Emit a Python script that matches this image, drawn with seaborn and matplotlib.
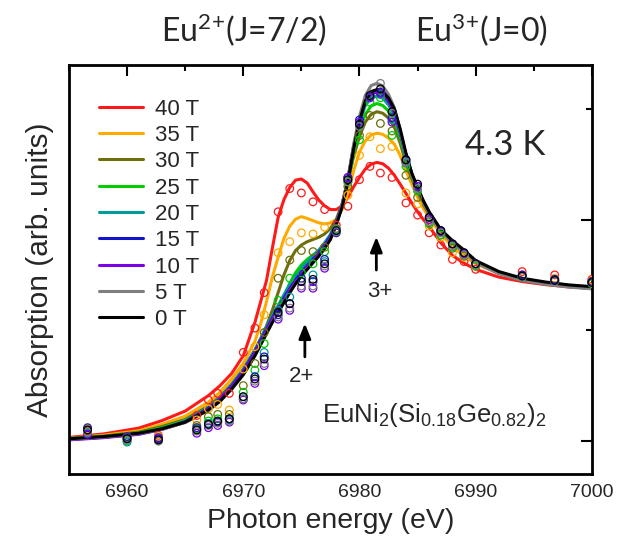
import matplotlib
matplotlib.use("Agg")
import matplotlib.pyplot as plt
import numpy as np
import pandas as pd
import seaborn as sns
from matplotlib.ticker import FixedLocator, MultipleLocator

# Magnetic field labels and their colours
fields = ["40 T", "35 T", "30 T", "25 T", "20 T", "15 T", "10 T", "5 T", "0 T"]
colors = ["#ff1a1a", "#ffaa00", "#6e6e0a", "#00cc00", "#009b9b",
          "#1414c8", "#7a00e6", "#7f7f7f", "#000000"]

# Smooth spectra (solid lines)
energy_fit = [6955, 6958, 6961, 6963, 6965, 6967, 6968, 6969, 6970, 6971,
              6971.5, 6972, 6972.5, 6973, 6973.5, 6974, 6974.5, 6975, 6975.5, 6976,
              6976.5, 6977, 6977.5, 6978, 6978.5, 6979, 6979.5, 6980, 6980.5, 6981,
              6981.5, 6982, 6982.5, 6983, 6983.5, 6984, 6984.5, 6985, 6985.5, 6986,
              6987, 6988, 6989, 6990, 6992, 6994, 6996, 6998, 7000]

fit_40T = [0.016, 0.032, 0.058, 0.092, 0.135, 0.205, 0.250, 0.305, 0.385, 0.535,
           0.630, 0.725, 0.870, 1.010, 1.090, 1.145, 1.178, 1.183, 1.165, 1.125,
           1.088, 1.062, 1.045, 1.045, 1.062, 1.100, 1.148, 1.190, 1.228, 1.250,
           1.258, 1.252, 1.232, 1.200, 1.160, 1.118, 1.075, 1.035, 1.000, 0.968,
           0.895, 0.838, 0.803, 0.775, 0.740, 0.720, 0.706, 0.696, 0.690]
fit_35T = [0.013, 0.026, 0.046, 0.075, 0.112, 0.175, 0.220, 0.280, 0.350, 0.450,
           0.530, 0.630, 0.740, 0.830, 0.915, 0.970, 1.002, 1.013, 1.005, 0.995,
           0.985, 0.980, 0.985, 1.000, 1.045, 1.120, 1.220, 1.305, 1.355, 1.382,
           1.390, 1.385, 1.368, 1.340, 1.290, 1.220, 1.160, 1.100, 1.050, 1.010,
           0.935, 0.877, 0.835, 0.800, 0.758, 0.728, 0.710, 0.698, 0.690]
fit_30T = [0.012, 0.022, 0.040, 0.065, 0.097, 0.158, 0.200, 0.257, 0.325, 0.412,
           0.462, 0.520, 0.590, 0.670, 0.750, 0.815, 0.860, 0.885, 0.900, 0.910,
           0.920, 0.935, 0.960, 1.000, 1.070, 1.170, 1.285, 1.375, 1.440, 1.475,
           1.487, 1.480, 1.458, 1.418, 1.345, 1.255, 1.185, 1.122, 1.068, 1.022,
           0.948, 0.895, 0.853, 0.808, 0.760, 0.730, 0.712, 0.700, 0.692]
fit_25T = [0.010, 0.020, 0.037, 0.060, 0.092, 0.150, 0.192, 0.250, 0.318, 0.405,
           0.455, 0.505, 0.552, 0.600, 0.655, 0.712, 0.760, 0.795, 0.820, 0.840,
           0.860, 0.890, 0.930, 0.985, 1.060, 1.165, 1.300, 1.405, 1.475, 1.513,
           1.524, 1.515, 1.490, 1.445, 1.370, 1.275, 1.195, 1.132, 1.075, 1.028,
           0.950, 0.898, 0.857, 0.810, 0.762, 0.732, 0.713, 0.700, 0.692]
fit_20T = [0.008, 0.018, 0.034, 0.056, 0.089, 0.150, 0.194, 0.252, 0.320, 0.410,
           0.462, 0.514, 0.565, 0.612, 0.660, 0.705, 0.745, 0.780, 0.808, 0.835,
           0.862, 0.895, 0.932, 0.990, 1.065, 1.175, 1.320, 1.435, 1.515, 1.550,
           1.557, 1.548, 1.518, 1.472, 1.385, 1.282, 1.198, 1.135, 1.077, 1.028,
           0.948, 0.898, 0.856, 0.810, 0.760, 0.730, 0.712, 0.700, 0.692]
fit_15T = [0.007, 0.017, 0.032, 0.054, 0.087, 0.147, 0.190, 0.248, 0.315, 0.402,
           0.455, 0.505, 0.555, 0.600, 0.645, 0.688, 0.727, 0.762, 0.791, 0.820,
           0.850, 0.885, 0.923, 0.985, 1.063, 1.178, 1.330, 1.450, 1.535, 1.568,
           1.575, 1.566, 1.535, 1.487, 1.398, 1.292, 1.205, 1.140, 1.080, 1.030,
           0.950, 0.900, 0.857, 0.810, 0.760, 0.730, 0.712, 0.700, 0.692]
fit_10T = [0.005, 0.015, 0.030, 0.052, 0.085, 0.145, 0.188, 0.245, 0.312, 0.398,
           0.450, 0.500, 0.550, 0.595, 0.640, 0.683, 0.722, 0.757, 0.786, 0.815,
           0.845, 0.880, 0.920, 0.985, 1.065, 1.180, 1.330, 1.450, 1.535, 1.570,
           1.577, 1.567, 1.535, 1.485, 1.395, 1.290, 1.205, 1.140, 1.080, 1.030,
           0.950, 0.898, 0.855, 0.808, 0.758, 0.728, 0.710, 0.698, 0.688]
fit_5T = [0.008, 0.018, 0.033, 0.053, 0.083, 0.138, 0.178, 0.233, 0.298, 0.385,
          0.437, 0.488, 0.538, 0.583, 0.628, 0.672, 0.712, 0.747, 0.777, 0.806,
          0.836, 0.870, 0.912, 0.980, 1.065, 1.185, 1.340, 1.465, 1.560, 1.605,
          1.615, 1.603, 1.565, 1.505, 1.405, 1.290, 1.200, 1.135, 1.075, 1.025,
          0.945, 0.895, 0.852, 0.805, 0.755, 0.725, 0.708, 0.695, 0.687]
fit_0T = [0.010, 0.020, 0.035, 0.055, 0.085, 0.140, 0.180, 0.235, 0.300, 0.385,
          0.435, 0.485, 0.535, 0.580, 0.625, 0.670, 0.710, 0.745, 0.775, 0.805,
          0.835, 0.870, 0.910, 0.975, 1.055, 1.170, 1.320, 1.445, 1.535, 1.578,
          1.587, 1.578, 1.548, 1.500, 1.410, 1.300, 1.210, 1.145, 1.085, 1.035,
          0.955, 0.905, 0.862, 0.815, 0.765, 0.735, 0.718, 0.705, 0.697]

# Measured points (open circles)
energy_pts = [6956.6, 6960.0, 6962.7, 6966.0, 6967.0, 6967.8, 6968.8, 6970.0, 6971.0, 6971.8,
              6973.0, 6974.0, 6975.0, 6976.0, 6977.0, 6978.0, 6979.0, 6980.0, 6980.9, 6981.8,
              6982.8, 6984.0, 6985.0, 6986.0, 6987.0, 6988.0, 6989.0, 6990.0, 6994.0, 6996.8,
              7000.0]

pts_40T = [0.045, 0.020, 0.025, 0.115, 0.185, 0.215, 0.215, 0.400, 0.510, 0.670,
           1.035, 1.140, 1.120, 1.080, 1.045, 0.975, 1.060, 1.180, 1.240, 1.210,
           1.190, 1.075, 1.020, 0.940, 0.885, 0.820, 0.810, 0.775, 0.765, 0.750,
           0.730]
pts_35T = [0.055, 0.020, 0.020, 0.095, 0.145, 0.165, 0.140, 0.325, 0.426, 0.570,
           0.850, 0.900, 0.940, 0.935, 0.965, 0.955, 1.110, 1.290, 1.374, 1.320,
           1.330, 1.120, 1.070, 0.970, 0.920, 0.850, 0.830, 0.790, 0.750, 0.735,
           0.725]
pts_30T = [0.050, 0.015, 0.010, 0.070, 0.110, 0.120, 0.120, 0.250, 0.350, 0.490,
           0.735, 0.817, 0.860, 0.855, 0.875, 0.960, 1.150, 1.380, 1.470, 1.434,
           1.400, 1.200, 1.100, 0.990, 0.930, 0.870, 0.835, 0.800, 0.745, 0.730,
           0.720]
pts_25T = [0.040, 0.000, 0.000, 0.055, 0.090, 0.100, 0.100, 0.220, 0.320, 0.440,
           0.635, 0.735, 0.760, 0.800, 0.855, 0.950, 1.170, 1.360, 1.530, 1.550,
           1.380, 1.240, 1.130, 0.980, 0.930, 0.875, 0.840, 0.790, 0.740, 0.725,
           0.710]
pts_20T = [0.035, -0.005, 0.005, 0.050, 0.080, 0.090, 0.095, 0.200, 0.290, 0.400,
           0.590, 0.650, 0.720, 0.750, 0.810, 0.955, 1.180, 1.430, 1.550, 1.565,
           1.450, 1.255, 1.140, 0.990, 0.940, 0.880, 0.845, 0.795, 0.745, 0.725,
           0.715]
pts_15T = [0.060, 0.020, 0.015, 0.060, 0.075, 0.085, 0.100, 0.190, 0.290, 0.380,
           0.570, 0.620, 0.735, 0.720, 0.820, 0.940, 1.190, 1.450, 1.555, 1.575,
           1.460, 1.270, 1.150, 1.010, 0.950, 0.890, 0.850, 0.800, 0.750, 0.730,
           0.720]
pts_10T = [0.030, 0.010, 0.010, 0.035, 0.060, 0.070, 0.085, 0.185, 0.260, 0.340,
           0.550, 0.590, 0.690, 0.690, 0.780, 0.945, 1.190, 1.440, 1.550, 1.570,
           1.440, 1.260, 1.150, 1.000, 0.945, 0.890, 0.845, 0.800, 0.745, 0.725,
           0.715]
pts_5T = [0.040, 0.005, 0.000, 0.045, 0.070, 0.080, 0.090, 0.190, 0.270, 0.350,
          0.560, 0.600, 0.700, 0.700, 0.790, 0.945, 1.170, 1.420, 1.560, 1.615,
          1.480, 1.260, 1.140, 0.990, 0.940, 0.880, 0.840, 0.795, 0.740, 0.720,
          0.712]
pts_0T = [0.050, 0.010, 0.005, 0.050, 0.075, 0.090, 0.100, 0.200, 0.280, 0.370,
          0.580, 0.620, 0.720, 0.730, 0.800, 0.950, 1.180, 1.430, 1.560, 1.590,
          1.487, 1.270, 1.160, 1.010, 0.950, 0.890, 0.850, 0.800, 0.745, 0.725,
          0.715]

fit_series = [fit_40T, fit_35T, fit_30T, fit_25T, fit_20T, fit_15T, fit_10T, fit_5T, fit_0T]
pts_series = [pts_40T, pts_35T, pts_30T, pts_25T, pts_20T, pts_15T, pts_10T, pts_5T, pts_0T]

fit_df = pd.concat(
    [pd.DataFrame({"energy": energy_fit, "absorption": v, "field": f})
     for f, v in zip(fields, fit_series)], ignore_index=True)
pts_df = pd.concat(
    [pd.DataFrame({"energy": energy_pts, "absorption": v, "field": f})
     for f, v in zip(fields, pts_series)], ignore_index=True)

sns.set_theme(style="white")
plt.rcParams["font.family"] = ["Liberation Sans", "DejaVu Sans"]

fig = plt.figure(figsize=(6.27, 5.47), dpi=100)
ax = fig.add_axes([0.110, 0.1335, 0.834, 0.7477])

sns.lineplot(data=fit_df, x="energy", y="absorption", hue="field",
             hue_order=fields, palette=colors, linewidth=2.2,
             estimator=None, sort=False, ax=ax)
sns.scatterplot(data=pts_df, x="energy", y="absorption", hue="field",
                hue_order=fields, palette=colors, s=30, marker="o",
                legend=False, ax=ax, zorder=3)
circles = ax.collections[-1]
circles.set_edgecolors(circles.get_facecolors())
circles.set_facecolors("none")
circles.set_linewidths(0.9)

ax.set_xlim(6955, 7000)
ax.set_ylim(-0.149, 1.698)
ax.xaxis.set_major_locator(MultipleLocator(10))
ax.xaxis.set_minor_locator(MultipleLocator(5))
ax.yaxis.set_major_locator(FixedLocator([0, 1]))
ax.yaxis.set_minor_locator(FixedLocator([0.5, 1.5]))
ax.tick_params(which="both", direction="in", top=True, right=True,
               width=1.5, color="black", labelleft=False)
ax.tick_params(which="major", length=8, labelsize=14, pad=7)
ax.tick_params(which="minor", length=4.3)
ax.grid(False)
for sp in ax.spines.values():
    sp.set_linewidth(2)
    sp.set_color("black")

ax.set_xlabel("Photon energy (eV)", fontsize=20.5, labelpad=5)
ax.set_ylabel("Absorption (arb. units)", fontsize=21.5, labelpad=11)

handles, labels = ax.get_legend_handles_labels()
leg = ax.legend(handles, labels, loc="upper left", bbox_to_anchor=(0.057, 0.918),
                frameon=False, fontsize=16, handlelength=2.0, handletextpad=0.55,
                labelspacing=0.24, borderpad=0, borderaxespad=0)
for h in leg.get_lines():
    h.set_linewidth(2.2)

# Valence markers
arrow_style = dict(arrowstyle="-|>,head_length=0.6,head_width=0.24",
                   mutation_scale=15, lw=2, color="black", shrinkA=0, shrinkB=0)
ax.annotate("", xy=(6975.3, 0.531), xytext=(6975.3, 0.38), arrowprops=arrow_style)
ax.annotate("", xy=(6981.45, 0.922), xytext=(6981.45, 0.772), arrowprops=arrow_style)
ax.text(6975.0, 0.29, "2+", fontsize=16, ha="center", va="center")
ax.text(6981.75, 0.674, "3+", fontsize=16, ha="center", va="center")

ax.text(6976.75, 0.086,
        r"EuNi$\mathregular{_2}$(Si$\mathregular{_{0.18}}$Ge$\mathregular{_{0.82}}$)$\mathregular{_2}$",
        fontsize=18.5, ha="left", va="baseline")
ax.text(6992.5, 1.336, "4.3 K", fontsize=25, family="Lato", ha="center", va="center")

fig.text(244 / 627, 1 - 30 / 547, r"Eu$\mathregular{^{2}}$$\mathregular{^{+}}$(J=7/2)",
         fontsize=23, family="Lato", ha="center", va="center")
fig.text(481 / 627, 1 - 30 / 547, r"Eu$\mathregular{^{3}}$$\mathregular{^{+}}$(J=0)",
         fontsize=23, family="Lato", ha="center", va="center")

fig.savefig("out.png", dpi=100)
